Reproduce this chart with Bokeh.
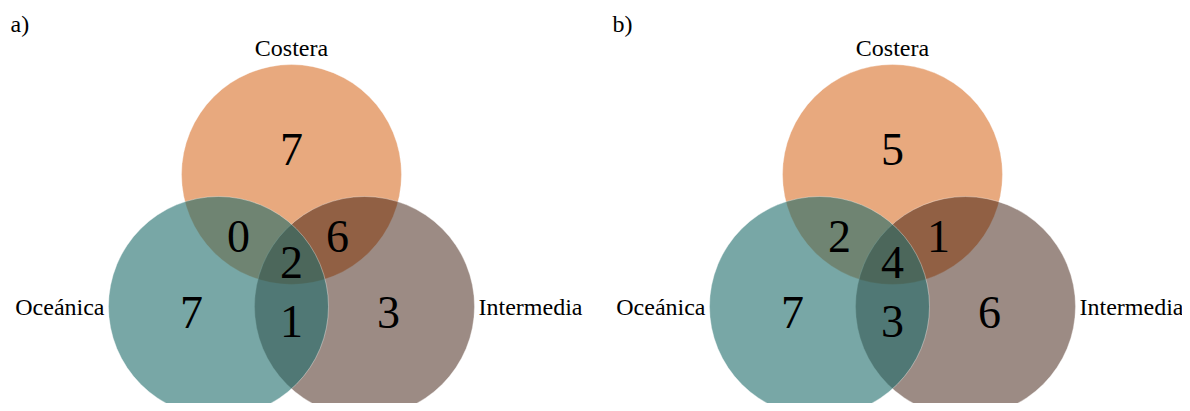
from bokeh.plotting import figure
from bokeh.models import Range1d, ColumnDataSource
from bokeh.core.properties import value
from bokeh.embed import file_html
from bokeh.resources import INLINE

# ---- data ----
panel_tags = ["a)", "b)"]
set_names = ["Costera", "Oceánica", "Intermedia"]
regions = ["C", "CO", "CI", "COI", "O", "OI", "I"]
counts_a = [7, 0, 6, 2, 7, 1, 3]
counts_b = [5, 2, 1, 4, 7, 3, 6]

# ---- layout / style ----
W, H = 1182, 403
p = figure(width=W, height=H, x_range=Range1d(0, W), y_range=Range1d(H, 0),
           output_backend="svg", toolbar_location=None, min_border=0)
p.axis.visible = False
p.grid.visible = False
p.outline_line_color = None
p.background_fill_color = "white"
p.border_fill_color = "white"

FONT = value("Liberation Serif")
panel_cx = [291, 892]
R = 110
dx_side = 73
y_top, y_bot = 174, 306

# set styles: (source colour, alpha) drawn in order Costera, Intermedia, Oceánica
styles = {
    "Costera": ((217, 112, 40), 0.6),
    "Intermedia": ((57, 23, 9), 0.5),
    "Oceánica": ((30, 108, 106), 0.6),
}
centre_off = {"Costera": (0, y_top), "Oceánica": (-dx_side, y_bot), "Intermedia": (dx_side, y_bot)}

for cx in panel_cx:
    for name in ["Costera", "Intermedia", "Oceánica"]:
        (r, g, b), a = styles[name]
        ox, oy = centre_off[name]
        p.ellipse(x=[cx + ox], y=[oy], width=2 * R, height=2 * R,
                  fill_color="#%02x%02x%02x" % (r, g, b), fill_alpha=a,
                  line_color="white", line_alpha=0.35, line_width=1)

# region number positions (offset from panel centre, baseline y)
reg_pos = {"C": (0, 149), "CO": (-53, 236), "CI": (46, 236), "COI": (0, 262),
           "O": (-100, 312), "OI": (0, 321), "I": (97, 312)}

for cx, counts in zip(panel_cx, [counts_a, counts_b]):
    src = ColumnDataSource(dict(
        x=[cx + reg_pos[rg][0] for rg in regions],
        y=[reg_pos[rg][1] for rg in regions],
        t=[str(c) for c in counts]))
    p.text(x="x", y="y", text="t", source=src, text_font=FONT, text_font_size="46px",
           text_align="center", text_baseline="alphabetic", text_color="black")

    # set labels
    p.text(x=[cx], y=[47], text=[set_names[0]], text_font=FONT, text_font_size="24px",
           text_align="center", text_baseline="alphabetic", text_color="black")
    p.text(x=[cx - 187], y=[306], text=[set_names[1]], text_font=FONT, text_font_size="24px",
           text_align="right", text_baseline="alphabetic", text_color="black")
    p.text(x=[cx + 187], y=[306], text=[set_names[2]], text_font=FONT, text_font_size="24px",
           text_align="left", text_baseline="alphabetic", text_color="black")

p.text(x=[10, 612], y=[23, 23], text=panel_tags, text_font=FONT, text_font_size="24px",
       text_align="left", text_baseline="alphabetic", text_color="black")

open("out.html", "w").write(file_html(p, INLINE))
